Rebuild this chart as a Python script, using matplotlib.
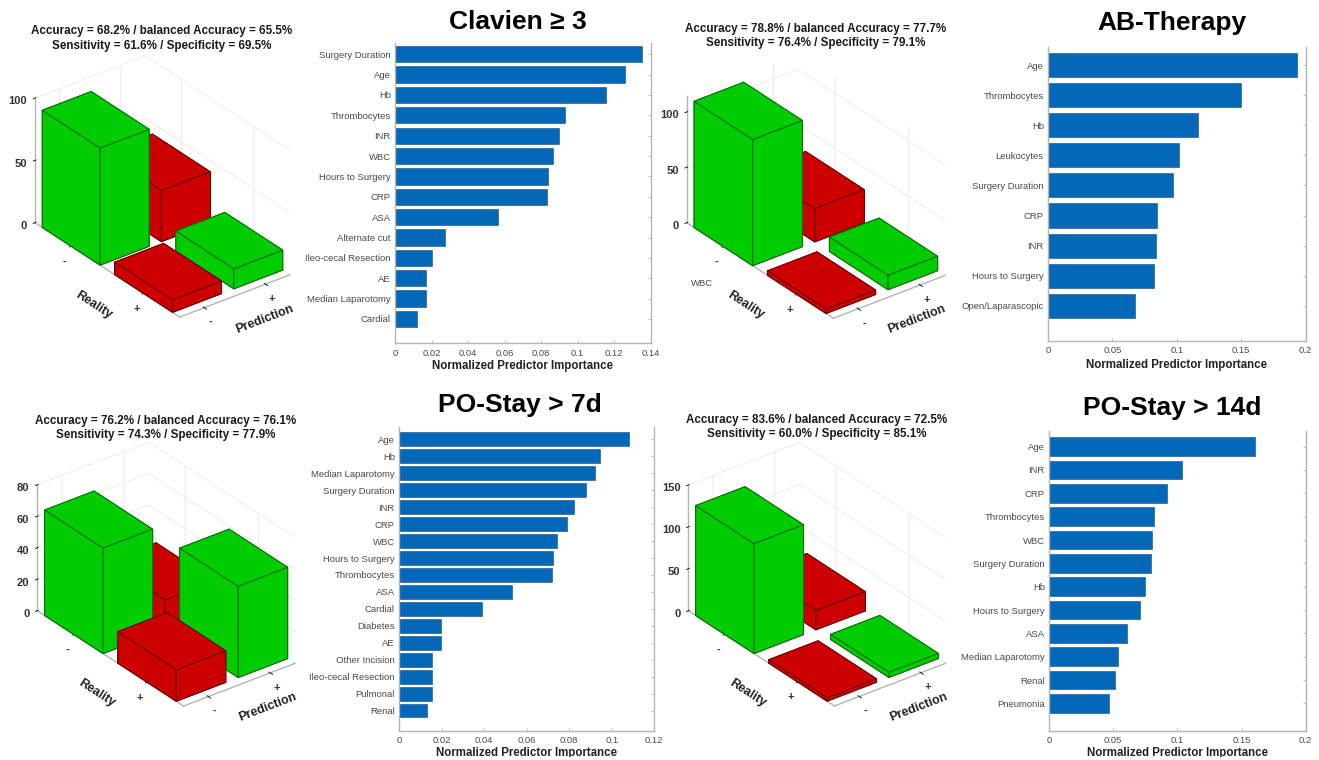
import numpy as np
import matplotlib
matplotlib.use("Agg")
import matplotlib.pyplot as plt
from matplotlib.patches import Rectangle
from mpl_toolkits.mplot3d import proj3d

plt.rcParams['font.family'] = ['Liberation Sans', 'DejaVu Sans']
plt.rcParams['grid.color'] = '#ebebeb'
plt.rcParams['grid.linewidth'] = 0.7

W, H = 1319, 760

# ── confusion matrices: [reality -, prediction -/+], [reality +, prediction -/+] ──
cm_clavien = [[94, 41], [10, 16]]
cm_ab = [[114, 30], [4, 13]]
cm_stay7 = [[67, 19], [20, 58]]
cm_stay14 = [[131, 23], [4, 6]]

z_ticks_clavien = [0, 50, 100]
z_ticks_ab = [0, 50, 100]
z_ticks_stay7 = [0, 20, 40, 60, 80]
z_ticks_stay14 = [0, 50, 100, 150]

z_max_clavien = 100
z_max_ab = 114
z_max_stay7 = 80
z_max_stay14 = 150

head_clavien = ['Accuracy = 68.2% / balanced Accuracy = 65.5%', 'Sensitivity = 61.6% / Specificity = 69.5%']
head_ab = ['Accuracy = 78.8% / balanced Accuracy = 77.7%', 'Sensitivity = 76.4% / Specificity = 79.1%']
head_stay7 = ['Accuracy = 76.2% / balanced Accuracy = 76.1%', 'Sensitivity = 74.3% / Specificity = 77.9%']
head_stay14 = ['Accuracy = 83.6% / balanced Accuracy = 72.5%', 'Sensitivity = 60.0% / Specificity = 85.1%']

# ── predictor importance ──
names_clavien = ['Surgery Duration', 'Age', 'Hb', 'Thrombocytes', 'INR', 'WBC', 'Hours to Surgery', 'CRP',
                 'ASA', 'Alternate cut', 'Ileo-cecal Resection', 'AE', 'Median Laparotomy', 'Cardial']
vals_clavien = [.1354, .1261, .1155, .0931, .0900, .0863, .0840, .0834, .0566, .0274, .0201, .0172, .0171, .0120]
ticks_clavien = [0, .02, .04, .06, .08, .1, .12, .14]
labels_clavien = ['0', '0.02', '0.04', '0.06', '0.08', '0.1', '0.12', '0.14']

names_ab = ['Age', 'Thrombocytes', 'Hb', 'Leukocytes', 'Surgery Duration', 'CRP', 'INR', 'Hours to Surgery',
            'Open/Laparascopic']
vals_ab = [.1930, .1498, .1167, .1020, .0973, .0843, .0836, .0825, .0673]
ticks_ab = [0, .05, .1, .15, .2]
labels_ab = ['0', '0.05', '0.1', '0.15', '0.2']

names_stay7 = ['Age', 'Hb', 'Median Laparotomy', 'Surgery Duration', 'INR', 'CRP', 'WBC', 'Hours to Surgery',
               'Thrombocytes', 'ASA', 'Cardial', 'Diabetes', 'AE', 'Other Incision', 'Ileo-cecal Resection',
               'Pulmonal', 'Renal']
vals_stay7 = [.1081, .0946, .0920, .0879, .0821, .0790, .0741, .0722, .0718, .0530, .0392, .0199, .0199,
              .0157, .0157, .0154, .0132]
ticks_stay7 = [0, .02, .04, .06, .08, .1, .12]
labels_stay7 = ['0', '0.02', '0.04', '0.06', '0.08', '0.1', '0.12']

names_stay14 = ['Age', 'INR', 'CRP', 'Thrombocytes', 'WBC', 'Surgery Duration', 'Hb', 'Hours to Surgery', 'ASA',
                'Median Laparotomy', 'Renal', 'Pneumonia']
vals_stay14 = [.1608, .1039, .0922, .0816, .0805, .0795, .0748, .0706, .0605, .0538, .0517, .0468]
ticks_stay14 = [0, .05, .1, .15, .2]
labels_stay14 = ['0', '0.05', '0.1', '0.15', '0.2']

GREEN = '#00cc00'
RED = '#cc0000'
BLUE = '#0468b8'
GREY_LINE = '#b4b4b4'
GREY_TEXT = '#4a4a4a'

fig = plt.figure(figsize=(W / 100, H / 100), dpi=100, facecolor='white')


def fig_text(x, y, s, **kw):
    kw.setdefault('ha', 'center')
    kw.setdefault('va', 'center')
    fig.text(x / W, 1 - y / H, s, **kw)


def corner_px(ax, x, y, z):
    px, py, _ = proj3d.proj_transform(x, y, z, ax.get_proj())
    return ax.transData.transform((px, py))


def confusion_panel(cm, z_ticks, z_max, left_corner, right_x):
    ax = fig.add_axes([0.1, 0.1, 300 / W, 300 / H], projection='3d', proj_type='ortho')
    ax.patch.set_visible(False)
    ax.computed_zorder = False
    ax.view_init(elev=30, azim=-37.5)
    ax.set_box_aspect((716, 418, 433))

    # back to front so the boxes cover each other the right way
    order = [(0, 1), (0, 0), (1, 1), (1, 0)]
    for n, (r, p) in enumerate(order):
        color = GREEN if r == p else RED
        ax.bar3d(r + 0.6, p + 0.6, 0, 0.8, 0.8, cm[r][p], color=color, shade=False,
                 edgecolor='#0b6a0b' if r == p else '#6a0000', linewidth=0.7, zorder=3 + n)

    ax.set_xlim(0.5, 2.5)
    ax.set_ylim(0.6, 2.4)
    ax.set_zlim(0, z_max)
    ax.set_xticks([1, 2], ['-', '+'], fontweight='bold', fontsize=8, color='#333333')
    ax.set_yticks([1, 2], ['-', '+'], fontweight='bold', fontsize=8, color='#333333')
    ax.set_zticks(z_ticks)
    ax.set_zticklabels([str(t) for t in z_ticks], fontweight='bold', fontsize=8, color='#333333')
    for lab in ax.get_zticklabels():
        lab.set_ha('right')
    ax.tick_params(axis='x', pad=-1)
    ax.tick_params(axis='y', pad=-3)
    ax.tick_params(axis='z', pad=-4.5)
    ax.zaxis.set_ticks_position('lower')
    ax.zaxis.set_label_position('lower')

    for axis in (ax.xaxis, ax.yaxis, ax.zaxis):
        axis.set_pane_color((1, 1, 1, 0))
        axis.pane.set_edgecolor('none')
        axis.line.set_color(GREY_LINE)
        axis.line.set_linewidth(1.0)
        axis._axinfo['tick']['color'] = GREY_LINE
        axis._axinfo['tick']['linewidth'] = {True: 0.6, False: 0.6}

    # fit the floor of the box onto the same pixels as the reference
    fig.canvas.draw()
    a = corner_px(ax, 0.5, 0.6, 0)
    b = corner_px(ax, 2.5, 2.4, 0)
    size = 300 * (right_x - left_corner[0]) / (b[0] - a[0])
    ax.set_position([0.1, 0.1, size / W, size / H])
    fig.canvas.draw()
    a = corner_px(ax, 0.5, 0.6, 0)
    pos = ax.get_position()
    ax.set_position([pos.x0 + (left_corner[0] - a[0]) / W, pos.y0 + ((H - left_corner[1]) - a[1]) / H,
                     size / W, size / H])

    # axis names sit where the original has them, relative to the floor corner
    fig_text(left_corner[0] + 59, left_corner[1] + 82, 'Reality', rotation=-33, rotation_mode='anchor',
             fontweight='bold', fontsize=9, color='#222222')
    fig_text(left_corner[0] + 230, left_corner[1] + 97, 'Prediction', rotation=21, rotation_mode='anchor',
             fontweight='bold', fontsize=9, color='#222222')
    return ax


def importance_panel(names, vals, ticks, labels, box, y_lim, xmax, xlab_y):
    left, top, right, bottom = box
    ax = fig.add_axes([left / W, 1 - bottom / H, (right - left) / W, (bottom - top) / H])
    ypos = np.arange(1, len(vals) + 1)
    ax.barh(ypos, vals, height=0.8, color=BLUE, edgecolor='#2a5f94', linewidth=0.5)
    ax.set_xlim(0, xmax)
    ax.set_ylim(*y_lim)
    ax.set_yticks(ypos, names)
    ax.set_xticks(ticks, labels)
    ax.tick_params(axis='both', direction='in', length=2.5, width=0.6, color=GREY_LINE,
                   labelsize=6.8, labelcolor=GREY_TEXT, pad=4)
    ax.tick_params(axis='y', right=True, left=False, pad=3)
    ax.spines['top'].set_visible(False)
    for side in ('left', 'right', 'bottom'):
        ax.spines[side].set_color(GREY_LINE)
        ax.spines[side].set_linewidth(1.0)
    fig_text((left + right) / 2, xlab_y, 'Normalized Predictor Importance',
             fontsize=8.3, fontweight='bold', color='#222222')
    return ax


confusion_panel(cm_clavien, z_ticks_clavien, z_max_clavien, (35, 222.7), 290)
confusion_panel(cm_ab, z_ticks_ab, z_max_ab, (686.7, 222.7), 945)
confusion_panel(cm_stay7, z_ticks_stay7, z_max_stay7, (37.3, 610.7), 295)
confusion_panel(cm_stay14, z_ticks_stay14, z_max_stay14, (688.3, 610.7), 945.7)

importance_panel(names_clavien, vals_clavien, ticks_clavien, labels_clavien, (395, 43, 650.7, 343), (15.18, 0.45), 0.14, 366)
importance_panel(names_ab, vals_ab, ticks_ab, labels_ab, (1048, 46.7, 1305.7, 340.7), (10.16, 0.39), 0.2, 365)
importance_panel(names_stay7, vals_stay7, ticks_stay7, labels_stay7, (399, 426.7, 654.3, 730.7), (18.18, 0.26), 0.12, 753)
importance_panel(names_stay14, vals_stay14, ticks_stay14, labels_stay14, (1049, 431, 1305.7, 730.7), (13.17, 0.33), 0.2, 753)

# ── headers above the 3D boxes ──
for (cx, y1, y2), head in zip([(162, 31, 46), (816, 29, 43), (166, 421, 435), (817, 420, 434)],
                              [head_clavien, head_ab, head_stay7, head_stay14]):
    fig_text(cx, y1, head[0], fontsize=8.4, fontweight='bold', color='#1a1a1a')
    fig_text(cx, y2, head[1], fontsize=8.4, fontweight='bold', color='#1a1a1a')

# ── big titles ──
for cx, cy, s in [(517.5, 22, 'Clavien ≥ 3'), (1172, 23, 'AB-Therapy'), (520, 405, 'PO-Stay > 7d'), (1172, 408, 'PO-Stay > 14d')]:
    fig_text(cx, cy, s, fontsize=19, fontweight='bold', color='black')

# stray label left over in the original figure
fig_text(702, 283, 'WBC', fontsize=6.8, color=GREY_TEXT)

# the bottom labels are cut off by the image edge
fig.add_artist(Rectangle((0, 0), 1, 3 / H, transform=fig.transFigure, facecolor='white', edgecolor='none', zorder=20))

fig.savefig('out.png', dpi=100)
